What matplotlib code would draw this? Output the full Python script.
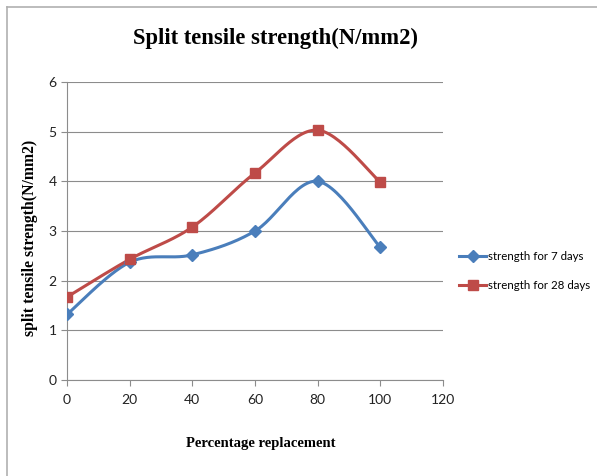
import numpy as np
import matplotlib.pyplot as plt
from matplotlib.lines import Line2D

# data
pct = [0, 20, 40, 60, 80, 100]
days7 = [1.32, 2.37, 2.52, 3.0, 4.0, 2.67]
days28 = [1.67, 2.43, 3.08, 4.17, 5.03, 3.98]


def smooth(x, y, n=30):
    # Excel style smoothed line (catmull-rom as cubic bezier)
    x = np.asarray(x, float)
    y = np.asarray(y, float)
    px = np.concatenate([[x[0]], x, [x[-1]]])
    py = np.concatenate([[y[0]], y, [y[-1]]])
    xs, ys = [], []
    t = np.linspace(0, 1, n)
    for i in range(1, len(px) - 2):
        p0 = np.array([px[i], py[i]])
        p3 = np.array([px[i + 1], py[i + 1]])
        c1 = p0 + (np.array([px[i + 1], py[i + 1]]) - np.array([px[i - 1], py[i - 1]])) / 6
        c2 = p3 - (np.array([px[i + 2], py[i + 2]]) - np.array([px[i], py[i]])) / 6
        b = ((1 - t) ** 3)[:, None] * p0 + (3 * (1 - t) ** 2 * t)[:, None] * c1 \
            + (3 * (1 - t) * t ** 2)[:, None] * c2 + (t ** 3)[:, None] * p3
        xs.extend(b[:, 0])
        ys.extend(b[:, 1])
    return xs, ys


blue = '#4A7EBB'
red = '#BE4B48'

fig = plt.figure(figsize=(5.97, 4.76), dpi=100)
ax = fig.add_axes([0.1122, 0.2017, 0.630, 0.626])

sx, sy = smooth(pct, days7)
ax.plot(sx, sy, color=blue, lw=2.2, zorder=3)
ax.plot(pct, days7, 'D', color=blue, ms=6, zorder=4)
sx, sy = smooth(pct, days28)
ax.plot(sx, sy, color=red, lw=2.2, zorder=3)
ax.plot(pct, days28, 's', color=red, ms=7, zorder=4)

ax.set_xlim(0, 120)
ax.set_ylim(0, 6)
ax.set_xticks(range(0, 121, 20))
ax.set_yticks(range(0, 7))
ax.grid(axis='y', color='#8c8c8c', lw=0.8)
ax.set_axisbelow(True)
for s in ['top', 'right']:
    ax.spines[s].set_visible(False)
for s in ['left', 'bottom']:
    ax.spines[s].set_color('#8c8c8c')
ax.tick_params(colors='#8c8c8c', labelcolor='#222222', labelsize=10, length=4)
for lbl in ax.get_xticklabels() + ax.get_yticklabels():
    lbl.set_family('Lato')
ax.tick_params(axis='x', pad=6)

fig.text(0.461, 0.92, 'Split tensile strength(N/mm2)', ha='center', va='center',
         family='Liberation Serif', weight='bold', fontsize=16.3)
fig.text(0.437, 0.069, 'Percentage replacement', ha='center', va='center',
         family='Liberation Serif', weight='bold', fontsize=10.5)
fig.text(0.05, 0.50, 'split tensile strength(N/mm2)', ha='center', va='center',
         rotation=90, family='Liberation Serif', weight='bold', fontsize=11.3)

handles = [Line2D([], [], color=blue, lw=2.2, marker='D', ms=6),
           Line2D([], [], color=red, lw=2.2, marker='s', ms=7)]
leg = fig.legend(handles, ['strength for 7 days', 'strength for 28 days'],
                 loc='center left', bbox_to_anchor=(0.752, 0.43), frameon=False,
                 prop={'family': 'Lato', 'size': 8.3}, handlelength=2.3,
                 handletextpad=0.2, labelspacing=1.55)

# outer border
fig.add_artist(Line2D([0.012, 1], [0.985, 0.985], color='#b0b0b0', lw=1.2,
                      transform=fig.transFigure))
fig.add_artist(Line2D([0.012, 0.012], [0, 0.985], color='#b0b0b0', lw=1.2,
                      transform=fig.transFigure))

fig.savefig('out.png', dpi=100)
